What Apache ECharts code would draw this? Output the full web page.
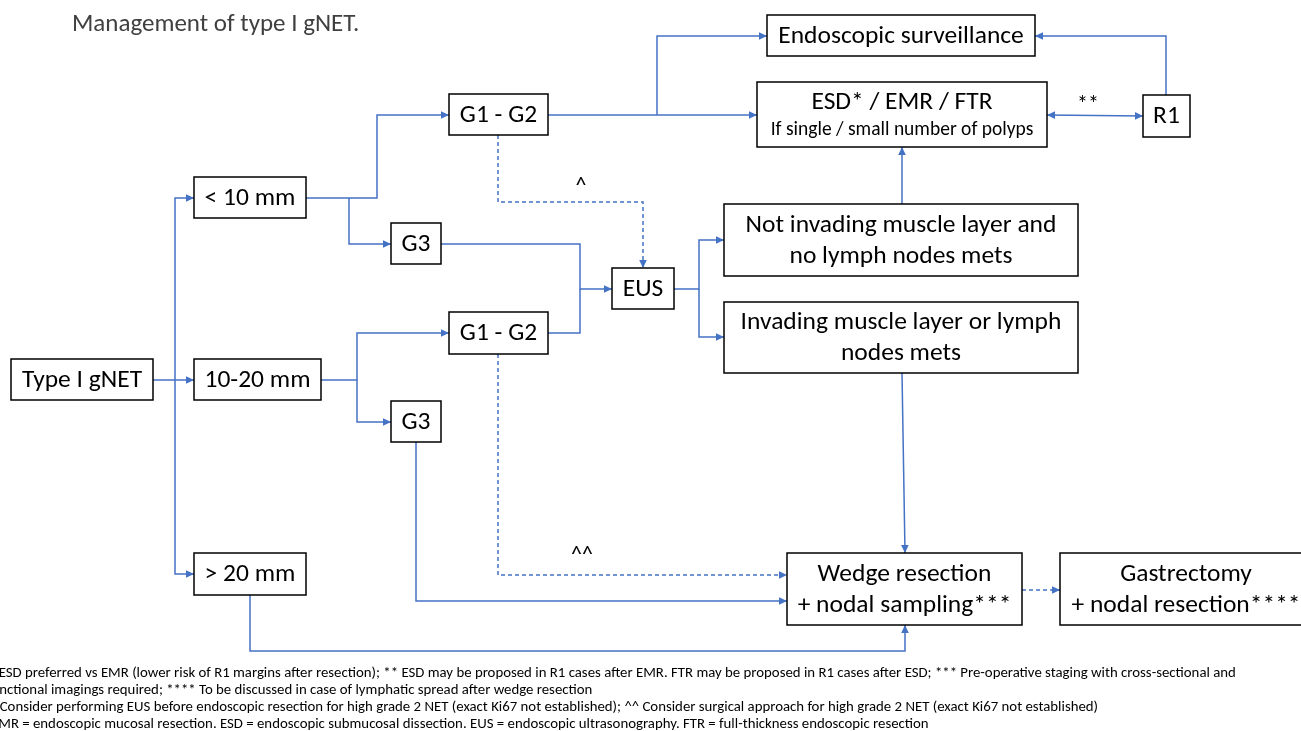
<!DOCTYPE html>
<html>
<head>
<meta charset="utf-8">
<script src="https://cdn.jsdelivr.net/npm/echarts@6/dist/echarts.min.js"></script>
<style>
html,body{margin:0;padding:0;background:#fff;}
#main{width:1301px;height:731px;}
</style>
</head>
<body>
<div id="main"></div>
<script>
// ---------- DATA ----------
const titleText = 'Management of type I gNET.';

const nodeLabels = [
  'Type I gNET', '< 10 mm', '10-20 mm', '> 20 mm',
  'G1 - G2', 'G3', 'G1 - G2', 'G3', 'EUS',
  'Not invading muscle layer and\nno lymph nodes mets',
  'Invading muscle layer or lymph\nnodes mets',
  'Endoscopic surveillance',
  'ESD* / EMR / FTR',
  'R1',
  'Wedge resection\n+ nodal sampling***',
  'Gastrectomy\n+ nodal resection****'
];
const nodeSubLabels = ['', '', '', '', '', '', '', '', '', '', '', '', 'If single / small number of polyps', '', '', ''];

// box corners in diagram units [x0, y0, x1, y1]
const nodeBoxes = [
  [11, 359, 153, 400], [194, 177, 306, 218], [194, 359, 321, 400], [194, 553, 306, 595],
  [449, 94, 548, 135], [391, 223, 441, 264], [449, 312, 548, 354], [391, 401, 441, 442],
  [612, 268, 674, 309],
  [724, 204, 1078, 276], [724, 302, 1078, 373],
  [767, 15, 1035, 56], [757, 82, 1047, 147], [1143, 95, 1190, 137],
  [787, 553, 1022, 625], [1060, 553, 1312, 625]
];

// connector paths (diagram units)
const edgePaths = [
  [[153, 380], [194, 380]],
  [[175, 380], [175, 198], [194, 198]],
  [[175, 380], [175, 574], [194, 574]],
  [[306, 198], [377, 198], [377, 115], [449, 115]],
  [[349, 198], [349, 244], [391, 244]],
  [[321, 380], [357, 380], [357, 333], [449, 333]],
  [[357, 380], [357, 422], [391, 422]],
  [[548, 115], [757, 115]],
  [[657, 115], [657, 36], [767, 36]],
  [[441, 244], [580, 244], [580, 289], [612, 289]],
  [[548, 333], [580, 333], [580, 289]],
  [[674, 289], [699, 289], [699, 240], [724, 240]],
  [[699, 289], [699, 337], [724, 337]],
  [[902, 204], [902, 147]],
  [[902, 373], [905, 553]],
  [[1047, 115], [1143, 116]],
  [[1166, 95], [1166, 36], [1035, 36]],
  [[416, 442], [416, 601], [787, 601]],
  [[250, 595], [250, 651], [905, 651], [905, 625]],
  [[498, 135], [498, 202], [643, 202], [643, 268]],
  [[498, 354], [498, 575], [787, 575]],
  [[1022, 590], [1060, 590]]
];
const edgeDashed = [0,0,0,0,0,0,0,0,0,0,0,0,0,0,0,0,0,0,0,1,1,1];
// arrow heads: 0 none, 1 end, 2 both ends
const edgeArrows = [1,1,1,1,1,1,1,1,1,1,0,1,1,1,1,2,1,1,1,1,1,1];

const noteLabels = ['^', '**', '^^'];
const notePos = [[581, 186], [1088, 105], [582, 555]];

const footnotes = [
  '* ESD preferred vs EMR (lower risk of R1 margins after resection); ** ESD may be proposed in R1 cases after EMR. FTR may be proposed in R1 cases after ESD; *** Pre-operative staging with cross-sectional and',
  'functional imagings required; **** To be discussed in case of lymphatic spread after wedge resection',
  '^ Consider performing EUS before endoscopic resection for high grade 2 NET (exact Ki67 not established); ^^ Consider surgical approach for high grade 2 NET (exact Ki67 not established)',
  'EMR = endoscopic mucosal resection. ESD = endoscopic submucosal dissection. EUS = endoscopic ultrasonography. FTR = full-thickness endoscopic resection'
];

// ---------- CHART ----------
const FONT = 'Carlito, Lato, sans-serif';
const BLUE = '#4472C4';
const BOXFONT = 25.5;
const chart = echarts.init(document.getElementById('main'), null, {renderer: 'canvas'});

function arrowHead(tip, prev) {
  const dx = tip[0] - prev[0], dy = tip[1] - prev[1];
  const len = Math.sqrt(dx * dx + dy * dy) || 1;
  const ux = dx / len, uy = dy / len;
  const L = 8, W = 3.8;
  const bx = tip[0] - ux * L, by = tip[1] - uy * L;
  return {
    type: 'polygon',
    shape: {points: [tip, [bx - uy * W, by + ux * W], [bx + uy * W, by - ux * W]]},
    style: {fill: BLUE, stroke: null}
  };
}

const footGraphics = footnotes.map((t, i) => ({
  type: 'text',
  left: [-12, -13, -11, -9][i],
  top: 666 + i * 17,
  style: {text: t, fontFamily: FONT, fontSize: 14.8, fill: '#000'}
}));

chart.setOption({
  animation: false,
  title: {
    text: titleText, left: 67, top: 7,
    textStyle: {fontFamily: FONT, fontSize: 25, fontWeight: 'normal', color: '#404040'}
  },
  grid: {left: 0, right: 0, top: 0, bottom: 0},
  xAxis: {type: 'value', min: 0, max: 1301, show: false},
  yAxis: {type: 'value', min: 0, max: 731, inverse: true, show: false},
  graphic: footGraphics,
  series: [
    {
      type: 'custom', coordinateSystem: 'cartesian2d', z: 2,
      data: edgePaths.map((p, i) => [i, 0]),
      renderItem: function (params, api) {
        const i = api.value(0);
        const pts = edgePaths[i].map(p => api.coord(p));
        const children = [{
          type: 'polyline',
          shape: {points: pts},
          style: {stroke: BLUE, lineWidth: 1.5, fill: null, lineDash: edgeDashed[i] ? [4, 3] : null}
        }];
        if (edgeArrows[i] >= 1) children.push(arrowHead(pts[pts.length - 1], pts[pts.length - 2]));
        if (edgeArrows[i] === 2) children.push(arrowHead(pts[0], pts[1]));
        return {type: 'group', children: children};
      }
    },
    {
      type: 'custom', coordinateSystem: 'cartesian2d', z: 3,
      data: nodeLabels.map((l, i) => [i, 0]),
      renderItem: function (params, api) {
        const i = api.value(0);
        const b = nodeBoxes[i];
        const p0 = api.coord([b[0], b[1]]);
        const p1 = api.coord([b[2], b[3]]);
        const x = Math.min(p0[0], p1[0]), y = Math.min(p0[1], p1[1]);
        const w = Math.abs(p1[0] - p0[0]), h = Math.abs(p1[1] - p0[1]);
        let text = nodeLabels[i];
        let rich = null;
        if (nodeSubLabels[i]) {
          text = '{a|' + nodeLabels[i] + '}\n{b|' + nodeSubLabels[i] + '}';
          rich = {
            a: {fontFamily: FONT, fontSize: BOXFONT, lineHeight: 30, fill: '#000'},
            b: {fontFamily: FONT, fontSize: 19.5, lineHeight: 26, fill: '#000'}
          };
        }
        return {
          type: 'group',
          children: [
            {type: 'rect', shape: {x: x, y: y, width: w, height: h},
             style: {fill: '#fff', stroke: '#000', lineWidth: 1.5}},
            {type: 'text', style: {
              x: x + w / 2, y: y + h / 2 + 1, text: text, rich: rich,
              align: 'center', verticalAlign: 'middle',
              fontFamily: FONT, fontSize: BOXFONT, lineHeight: 31, fill: '#000'
            }}
          ]
        };
      }
    },
    {
      type: 'custom', coordinateSystem: 'cartesian2d', z: 4,
      data: noteLabels.map((l, i) => [i, 0]),
      renderItem: function (params, api) {
        const i = api.value(0);
        const p = api.coord(notePos[i]);
        return {type: 'text', style: {
          x: p[0], y: p[1], text: noteLabels[i], align: 'center', verticalAlign: 'middle',
          fontFamily: FONT, fontSize: 22, fill: '#000'
        }};
      }
    }
  ]
});
</script>
</body>
</html>
